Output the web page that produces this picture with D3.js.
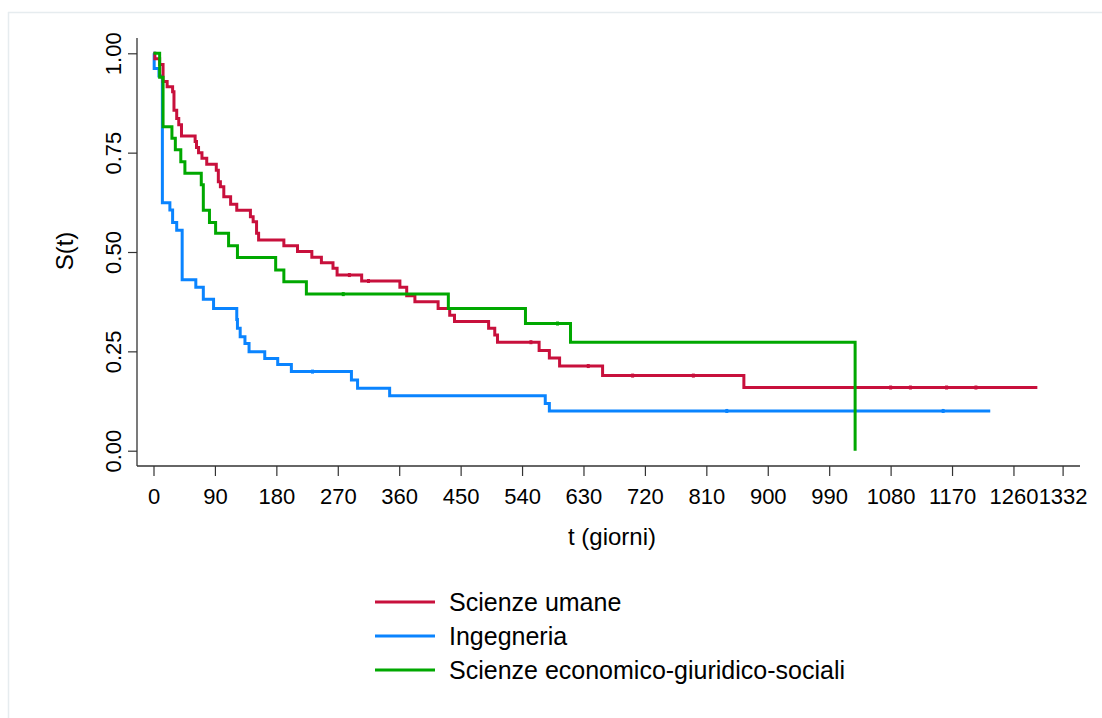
<!DOCTYPE html>
<html>
<head>
<meta charset="utf-8">
<script src="https://cdn.jsdelivr.net/npm/d3@7"></script>
<style>
  html, body { margin: 0; padding: 0; background: #fff; }
  svg { display: block; }
  text { font-family: "Liberation Sans", Arial, sans-serif; fill: #000; }
</style>
</head>
<body>
<svg id="chart" width="1102" height="718"></svg>
<script>
// ---------- data ----------
const seriesNames = ["Scienze umane", "Ingegneria", "Scienze economico-giuridico-sociali"];
const seriesColors = ["#c8103c", "#0a84ff", "#00a800"];

const umaneTimes = [0, 2, 9, 14, 20, 28, 30, 34, 37, 41, 61, 63, 66, 71, 78, 92, 95, 98, 103, 113, 122, 142, 146, 151, 154, 191, 211, 232, 246, 263, 269, 305, 361, 371, 383, 417, 434, 441, 491, 500, 504, 565, 580, 595, 658, 865, 1295];
const umaneSurv  = [1, 0.986, 0.972, 0.929, 0.916, 0.903, 0.857, 0.836, 0.820, 0.792, 0.778, 0.763, 0.750, 0.736, 0.721, 0.706, 0.677, 0.664, 0.639, 0.620, 0.605, 0.589, 0.576, 0.547, 0.530, 0.516, 0.501, 0.487, 0.473, 0.459, 0.442, 0.427, 0.411, 0.390, 0.375, 0.358, 0.341, 0.325, 0.308, 0.291, 0.273, 0.252, 0.233, 0.213, 0.189, 0.159, 0.159];
const umaneCensored = [287, 315, 553, 637, 702, 791, 1080, 1109, 1162, 1205];

const ingTimes = [0, 1, 8, 13, 24, 28, 34, 42, 62, 73, 88, 122, 123, 127, 134, 140, 163, 182, 202, 290, 299, 346, 574, 580, 1226];
const ingSurv  = [1, 0.962, 0.943, 0.624, 0.606, 0.574, 0.555, 0.430, 0.411, 0.381, 0.358, 0.330, 0.308, 0.287, 0.270, 0.249, 0.232, 0.217, 0.199, 0.178, 0.157, 0.138, 0.119, 0.100, 0.100];
const ingCensored = [233, 840, 1157];

const ecoTimes = [0, 9, 14, 27, 32, 40, 46, 70, 73, 82, 91, 110, 123, 179, 191, 224, 432, 545, 611, 1028];
const ecoSurv  = [1, 0.94, 0.815, 0.786, 0.757, 0.727, 0.698, 0.669, 0.605, 0.574, 0.547, 0.516, 0.486, 0.455, 0.425, 0.394, 0.358, 0.320, 0.273, 0];
const ecoCensored = [278, 592];

const xTicks = [0, 90, 180, 270, 360, 450, 540, 630, 720, 810, 900, 990, 1080, 1170, 1260, 1332];
const yTicks = [0, 0.25, 0.5, 0.75, 1];
const xTitle = "t (giorni)";
const yTitle = "S(t)";

// ---------- layout ----------
const svg = d3.select("#chart");
const x = d3.scaleLinear().domain([0, 1332]).range([153.5, 1062.6]);
const y = d3.scaleLinear().domain([0, 1]).range([450.7, 53.3]);
const axisY = 466;   // x-axis line position
const axisX = 137;   // y-axis line position

// faint outer frame
svg.append("line").attr("x1", 8).attr("x2", 1102).attr("y1", 12.5).attr("y2", 12.5)
  .attr("stroke", "#e6ecef").attr("stroke-width", 1.5);
svg.append("line").attr("x1", 8.5).attr("x2", 8.5).attr("y1", 12).attr("y2", 718)
  .attr("stroke", "#e6ecef").attr("stroke-width", 1.5);

// axes
const xAxis = d3.axisBottom(x).tickValues(xTicks).tickSize(10).tickPadding(12).tickFormat(d3.format("d"));
const gx = svg.append("g").attr("transform", `translate(0,${axisY})`).call(xAxis);
gx.select(".domain").remove();
gx.selectAll(".tick line").attr("stroke", "#333").attr("stroke-width", 1.2);
gx.selectAll(".tick text").style("font-size", "22px").attr("fill", "#000");
svg.append("line").attr("x1", axisX).attr("x2", 1080).attr("y1", axisY).attr("y2", axisY)
  .attr("stroke", "#333").attr("stroke-width", 1.3);

const yAxis = d3.axisLeft(y).tickValues(yTicks).tickSize(9).tickPadding(0).tickFormat(d3.format(".2f"));
const gy = svg.append("g").attr("transform", `translate(${axisX},0)`).call(yAxis);
gy.select(".domain").remove();
gy.selectAll(".tick line").attr("stroke", "#333").attr("stroke-width", 1.2);
gy.selectAll(".tick text").remove();
gy.selectAll(".tick").append("text")
  .attr("transform", "translate(-24,0) rotate(-90)")
  .attr("text-anchor", "middle")
  .attr("dy", "0.35em")
  .style("font-size", "22px")
  .text(d => d3.format(".2f")(d));
svg.append("line").attr("x1", axisX).attr("x2", axisX).attr("y1", 38).attr("y2", axisY)
  .attr("stroke", "#333").attr("stroke-width", 1.3);

// titles
svg.append("text").attr("x", 612).attr("y", 537).attr("dy", "0.35em").attr("text-anchor", "middle")
  .style("font-size", "24px").text(xTitle);
svg.append("text").attr("transform", "translate(65,251) rotate(-90)").attr("dy", "0.35em").attr("text-anchor", "middle")
  .style("font-size", "24px").text(yTitle);

// curves
const series = [
  {times: umaneTimes, surv: umaneSurv, cens: umaneCensored},
  {times: ingTimes, surv: ingSurv, cens: ingCensored},
  {times: ecoTimes, surv: ecoSurv, cens: ecoCensored}
];
const line = d3.line().x(d => x(d[0])).y(d => y(d[1])).curve(d3.curveStepAfter);
function survAt(s, t) {
  let v = s.surv[0];
  for (let i = 0; i < s.times.length; i++) { if (s.times[i] <= t) v = s.surv[i]; }
  return v;
}
const order = [1, 0, 2];
order.forEach(i => {
  const s = series[i];
  const pts = s.times.map((t, k) => [t, s.surv[k]]);
  svg.append("path").datum(pts).attr("d", line)
    .attr("fill", "none").attr("stroke", seriesColors[i]).attr("stroke-width", 3)
    .attr("stroke-linejoin", "miter");
  svg.selectAll(null).data(s.cens).enter().append("line")
    .attr("x1", d => x(d)).attr("x2", d => x(d))
    .attr("y1", d => y(survAt(s, d)) - 2).attr("y2", d => y(survAt(s, d)) + 2)
    .attr("stroke", seriesColors[i]).attr("stroke-width", 3);
});

// legend
const leg = svg.append("g");
seriesNames.forEach((name, i) => {
  const ly = 602 + i * 34;
  leg.append("line").attr("x1", 375).attr("x2", 435).attr("y1", ly).attr("y2", ly)
    .attr("stroke", seriesColors[i]).attr("stroke-width", 3);
  leg.append("text").attr("x", 449).attr("y", ly).attr("dy", "0.35em")
    .style("font-size", "25px").text(name);
});
</script>
</body>
</html>
